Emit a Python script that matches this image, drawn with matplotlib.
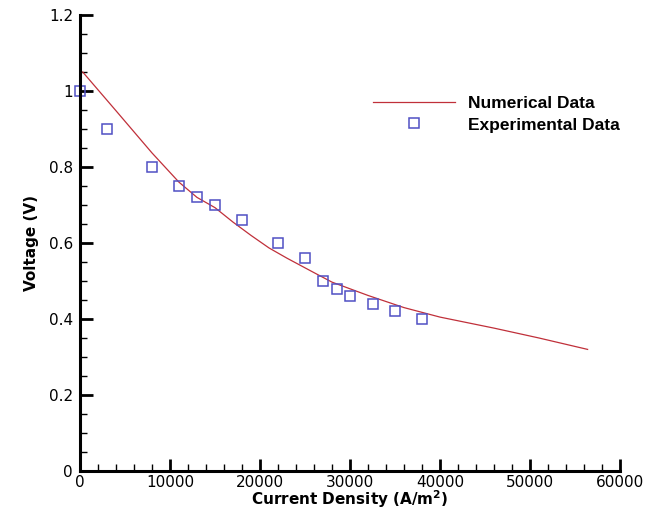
import matplotlib
matplotlib.use("Agg")
import matplotlib.pyplot as plt
from matplotlib.ticker import MultipleLocator

plt.rcParams['font.family'] = ['DejaVu Sans']
plt.rcParams['mathtext.fontset'] = 'dejavusans'

# Numerical data (line)
num_x = [300, 4000, 8000, 11000, 13000, 15000, 17000, 19000, 21000, 23000,
         26000, 28000, 32000, 36000, 40000, 46000, 51000, 56400]
num_y = [1.05, 0.948, 0.837, 0.76, 0.72, 0.693, 0.655, 0.62, 0.587, 0.56,
         0.522, 0.497, 0.462, 0.43, 0.405, 0.376, 0.35, 0.32]

# Experimental data (markers)
exp_x = [0, 3000, 8000, 11000, 13000, 15000, 18000, 22000, 25000, 27000,
         28500, 30000, 32500, 35000, 38000]
exp_y = [1.0, 0.9, 0.8, 0.75, 0.72, 0.70, 0.66, 0.60, 0.56, 0.50,
         0.48, 0.46, 0.44, 0.42, 0.40]

x_ticks = [0, 10000, 20000, 30000, 40000, 50000, 60000]
x_ticklabels = ['0', '10000', '20000', '30000', '40000', '50000', '60000']
y_ticks = [0, 0.2, 0.4, 0.6, 0.8, 1.0, 1.2]
y_ticklabels = ['0', '0.2', '0.4', '0.6', '0.8', '1', '1.2']

fig = plt.figure(figsize=(6.6, 5.09), dpi=100)
ax = fig.add_axes([80/660, 38/509, 540/660, 456/509])

ax.plot(num_x, num_y, color='#c0303a', lw=0.9, label='Numerical Data')
ax.plot(exp_x, exp_y, ls='none', marker='s', ms=7, mfc='none', mec='#5050c4',
        mew=1.1, label='Experimental Data', clip_on=False)

ax.set_xlim(0, 60000)
ax.set_ylim(0, 1.2)
ax.set_xticks(x_ticks)
ax.set_xticklabels(x_ticklabels)
ax.set_yticks(y_ticks)
ax.set_yticklabels(y_ticklabels)
ax.xaxis.set_minor_locator(MultipleLocator(2000))
ax.yaxis.set_minor_locator(MultipleLocator(0.05))

for s in ['top', 'right']:
    ax.spines[s].set_visible(False)
for s in ['left', 'bottom']:
    ax.spines[s].set_linewidth(2.2)

ax.tick_params(which='major', direction='in', length=9, width=2, labelsize=11)
ax.tick_params(axis='y', which='major', pad=5)
ax.tick_params(axis='x', which='major', pad=3)
ax.tick_params(which='minor', direction='in', length=5, width=1)

ax.set_xlabel(r'Current Density (A/m$\mathbf{^2}$)', fontsize=11, fontweight='bold', labelpad=-1.5)
ax.set_ylabel('Voltage (V)', fontsize=11, fontweight='bold', labelpad=7)

leg = ax.legend(loc='upper left', bbox_to_anchor=(0.5426, 0.822), frameon=False,
                prop={'family': 'Liberation Sans', 'weight': 'bold', 'size': 12.5},
                handlelength=4.7, handletextpad=0.75, borderpad=0,
                borderaxespad=0, labelspacing=0.35)

fig.savefig('out.png', dpi=100)
